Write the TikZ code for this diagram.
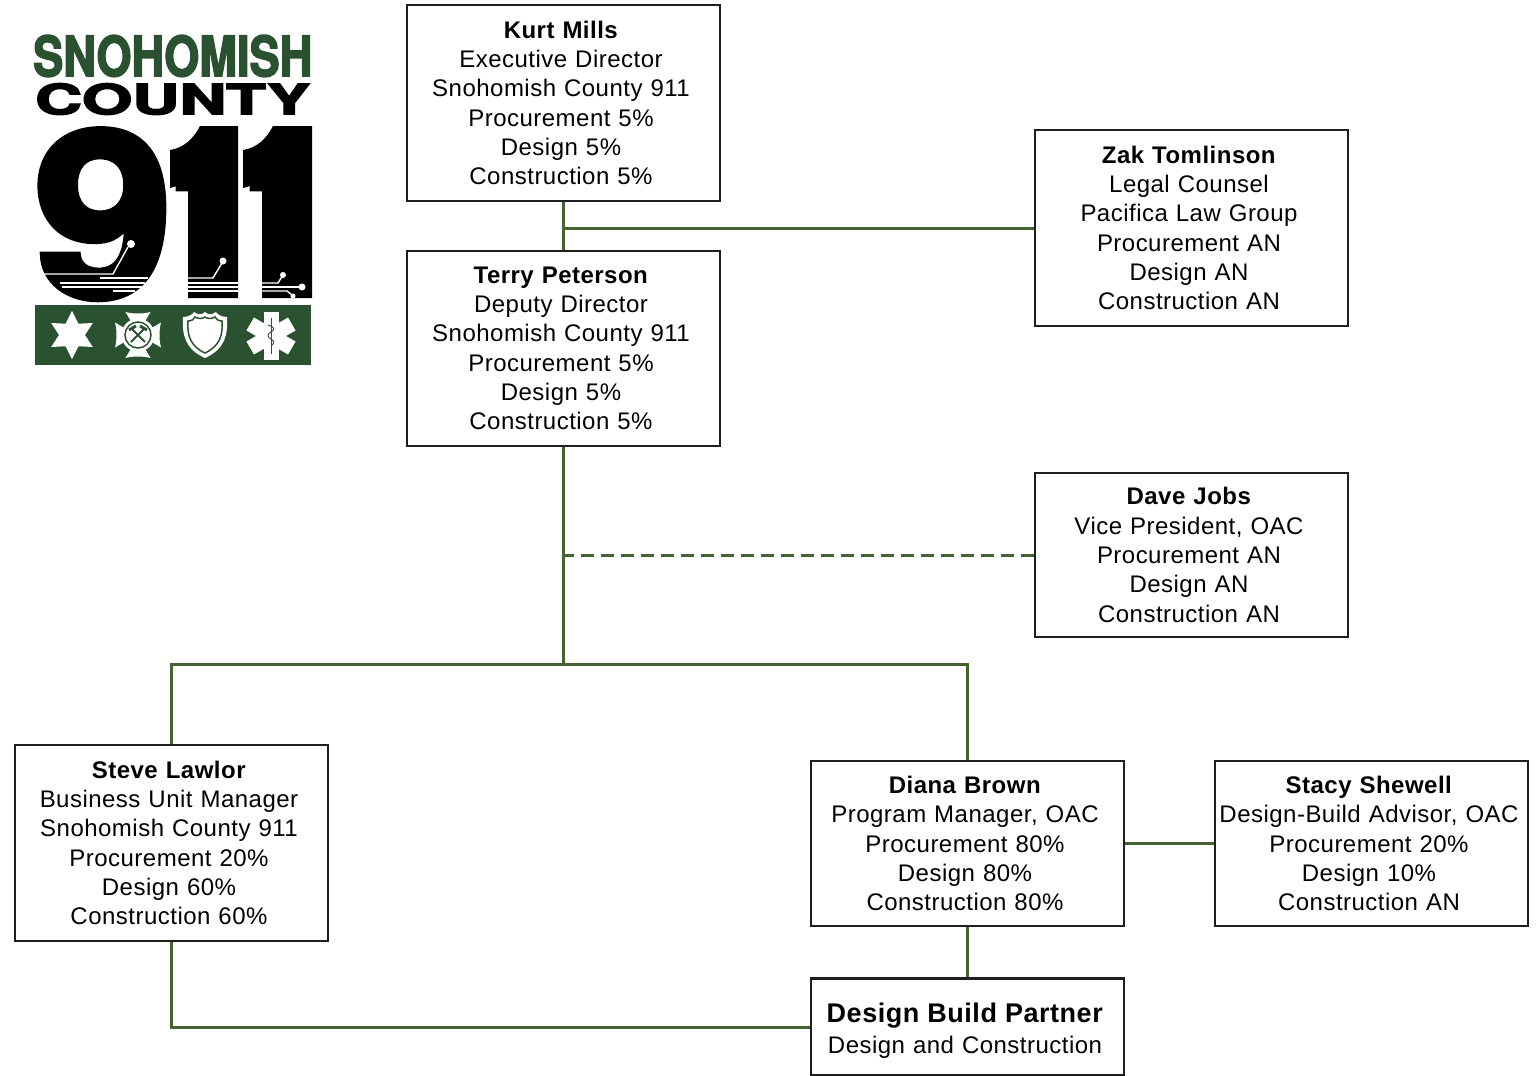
\documentclass[tikz,border=0pt]{standalone}
\usepackage{fontspec}
\setmainfont{Liberation Sans}[LetterSpace=2]
\newfontfamily\logofont{TeX Gyre Heros}[FakeBold=3]
\usetikzlibrary{calc}
\definecolor{linegreen}{HTML}{466431}
\definecolor{logogreen}{HTML}{2B5230}
\definecolor{boxblack}{HTML}{1E1E1E}
\tikzset{
  staffbox/.style={draw=boxblack, line width=2.5pt, fill=white, inner sep=0pt,
    text width=313pt, font=\fontsize{24}{29.3}\selectfont,
    execute at begin node={\parindent=0pt\leftskip=0pt plus 1fil\rightskip=5pt plus 1fil\parfillskip=0pt}},
  link/.style={draw=linegreen, line width=3pt},
  logotext/.style={inner sep=0pt, anchor=south west, font=\logofont\bfseries},
  trace/.style={draw=white, line width=1.4pt},
  traceball/.style={circle, fill=white, inner sep=0pt},
}
\begin{document}
\begin{tikzpicture}[x=1pt,y=-1pt]
    \useasboundingbox (0,0) rectangle (1540,1076);

    % Connector corners
    \coordinate (splitL) at (171.5,664);
    \coordinate (splitM) at (563.5,664);
    \coordinate (splitR) at (967.5,664);

    % Staff boxes
    \node[staffbox, minimum height=196pt] (kurt) at (563.5,103) {\textbf{Kurt Mills}\\Executive Director\\Snohomish County 911\\Procurement 5\%\\Design 5\%\\Construction 5\%};
    \node[staffbox, minimum height=195pt] (terry) at (563.5,348.5) {\textbf{Terry Peterson}\\Deputy Director\\Snohomish County 911\\Procurement 5\%\\Design 5\%\\Construction 5\%};
    \node[staffbox, minimum height=196pt] (zak) at (1191.5,228) {\textbf{Zak Tomlinson}\\Legal Counsel\\Pacifica Law Group\\Procurement AN\\Design AN\\Construction AN};
    \node[staffbox, minimum height=164pt] (dave) at (1191.5,555) {\textbf{Dave Jobs}\\Vice President, OAC\\Procurement AN\\Design AN\\Construction AN};
    \node[staffbox, minimum height=196pt] (steve) at (171.5,843) {\textbf{Steve Lawlor}\\Business Unit Manager\\Snohomish County 911\\Procurement 20\%\\Design 60\%\\Construction 60\%};
    \node[staffbox, minimum height=165pt] (diana) at (967.5,843.5) {\textbf{Diana Brown}\\Program Manager, OAC\\Procurement 80\%\\Design 80\%\\Construction 80\%};
    \node[staffbox, minimum height=165pt] (stacy) at (1371.5,843.5) {\textbf{Stacy Shewell}\\Design-Build Advisor, OAC\\Procurement 20\%\\Design 10\%\\Construction AN};
    \node[staffbox, minimum height=97pt] (partner) at (967.5,1027) {\rule{0pt}{27pt}{\fontsize{27}{31}\selectfont\textbf{Design Build Partner}}\\[1pt]Design and Construction};

    % Reporting lines
    \draw[link] (kurt.south) -- (terry.north);
    \draw[link] (zak.west) -- (zak.west -| kurt.south);
    \draw[link] (terry.south) -- (splitM);
    \draw[link] (steve.north) -- (splitL) -- (splitR) -- (diana.north);
    \draw[link, dash pattern=on 13pt off 7pt] (dave.west) -- (dave.west -| terry.south);
    \draw[link] (diana.east) -- (stacy.west);
    \draw[link] (diana.south) -- (partner.north);
    \draw[link] (steve.south) |- (partner.west);

    % Logo lettering
    \node[logotext, text=logogreen] (logoname) at (33,77) {\resizebox{279pt}{41pt}{SNOHOMISH}};
    \node[logotext, text=black] (logocounty) at (35,115) {\resizebox{275pt}{31pt}{COUNTY}};
    \node[logotext, text=black] (logonine) at (34,299) {\resizebox{138pt}{167pt}{9}};
    \node[logotext, text=black] (logoone) at (166,292) {\resizebox{100pt}{150pt}{1}};
    \node[logotext, text=black] (logotwo) at (240,292) {\resizebox{100pt}{150pt}{1}};

    % Heavier strokes of the two ones
    \fill[black] (238,126) -- (200,126) .. controls (194,138) and (184,148) .. (170,150) -- (170,188) .. controls (177,187) and (183,182) .. (188,177) -- (188,298) -- (238,298) -- cycle;
    \fill[black] (312,126) -- (273,126) .. controls (267,138) and (257,148) .. (243,150) -- (243,188) .. controls (250,187) and (257,182) .. (262,177) -- (262,298) -- (312,298) -- cycle;

    % Circuit traces
    \draw[trace] (43,274) -- (113,274) -- (128,247);
    \draw[trace] (100,278) -- (148,278);
    \draw[trace] (60,283) -- (145,283);
    \draw[trace] (62,287) -- (142,287);
    \draw[trace] (113,291) -- (135,291);
    \node[traceball, minimum size=8pt] at (131,244) {};
    \draw[trace] (188,278) -- (213,278) -- (222,263);
    \draw[trace] (188,283) -- (238,283);
    \draw[trace] (188,287) -- (238,287);
    \draw[trace] (188,291) -- (238,291);
    \node[traceball, minimum size=7pt] at (223,261) {};
    \draw[trace] (262,283) -- (278,283) -- (283,275);
    \draw[trace] (262,287) -- (302,287);
    \draw[trace] (262,291) -- (287,291) -- (292,295);
    \node[traceball, minimum size=6pt] at (283,275) {};
    \node[traceball, minimum size=7pt] at (302,287) {};
    \node[traceball, minimum size=5pt] at (293,296) {};

    % Logo band
    \fill[logogreen] (35,305) rectangle (311,365);

    % Sheriff star
    \fill[white] (72,311) \foreach \a in {1,...,11} {-- ({72+(mod(\a,2)==1 ? 13 : 24)*sin(30*\a)},{335-(mod(\a,2)==1 ? 13 : 24)*cos(30*\a)})} -- cycle;

    % Fire cross
    \begin{scope}[shift={(138,335)}]
        \foreach \a in {0,90,180,270} {
            \fill[white, rotate=\a] (-6,-12) -- (-12.5,-23) .. controls (-6,-21) and (6,-21) .. (12.5,-23) -- (6,-12) -- cycle;
        }
        \fill[white] (0,0) circle (16.5);
        \draw[logogreen, line width=1.5pt] (0,0) circle (13);
        \draw[logogreen, line width=1.8pt] (-7,7) -- (7,-7) (7,7) -- (-7,-7);
        \draw[logogreen, line width=3pt] (2,-9) -- (9,-5) (-2,-9) -- (-9,-5);
    \end{scope}

    % Police shield
    \begin{scope}[shift={(205,335)}]
        \fill[white] (-22,-18) .. controls (-16,-18) and (-12,-21) .. (-11,-23) .. controls (-7,-20) and (-3,-20) .. (0,-23) .. controls (3,-20) and (7,-20) .. (11,-23) .. controls (12,-21) and (16,-18) .. (22,-18) .. controls (23,0) and (20,14) .. (0,23) .. controls (-20,14) and (-23,0) .. (-22,-18) -- cycle;
        \draw[logogreen, line width=1.5pt] (-17,-14) .. controls (-13,-14) and (-11,-16) .. (-10,-18) .. controls (-6,-16) and (-3,-16) .. (0,-18) .. controls (3,-16) and (6,-16) .. (10,-18) .. controls (11,-16) and (13,-14) .. (17,-14) .. controls (18,0) and (15,11) .. (0,18) .. controls (-15,11) and (-18,0) .. (-17,-14) -- cycle;
    \end{scope}

    % Star of life
    \begin{scope}[shift={(271,336)}]
        \foreach \a in {0,60,120} {
            \fill[white, rotate=\a] (-7.5,-24) rectangle (7.5,24);
        }
        \draw[logogreen, line width=1pt] (0,-18) -- (0,18);
        \draw[logogreen, line width=0.9pt] (-3,-11) .. controls (4,-9) and (4,-6) .. (0,-4) .. controls (-4,-2) and (-4,1) .. (0,3) .. controls (4,5) and (3,8) .. (0,10);
    \end{scope}
\end{tikzpicture}
\end{document}
